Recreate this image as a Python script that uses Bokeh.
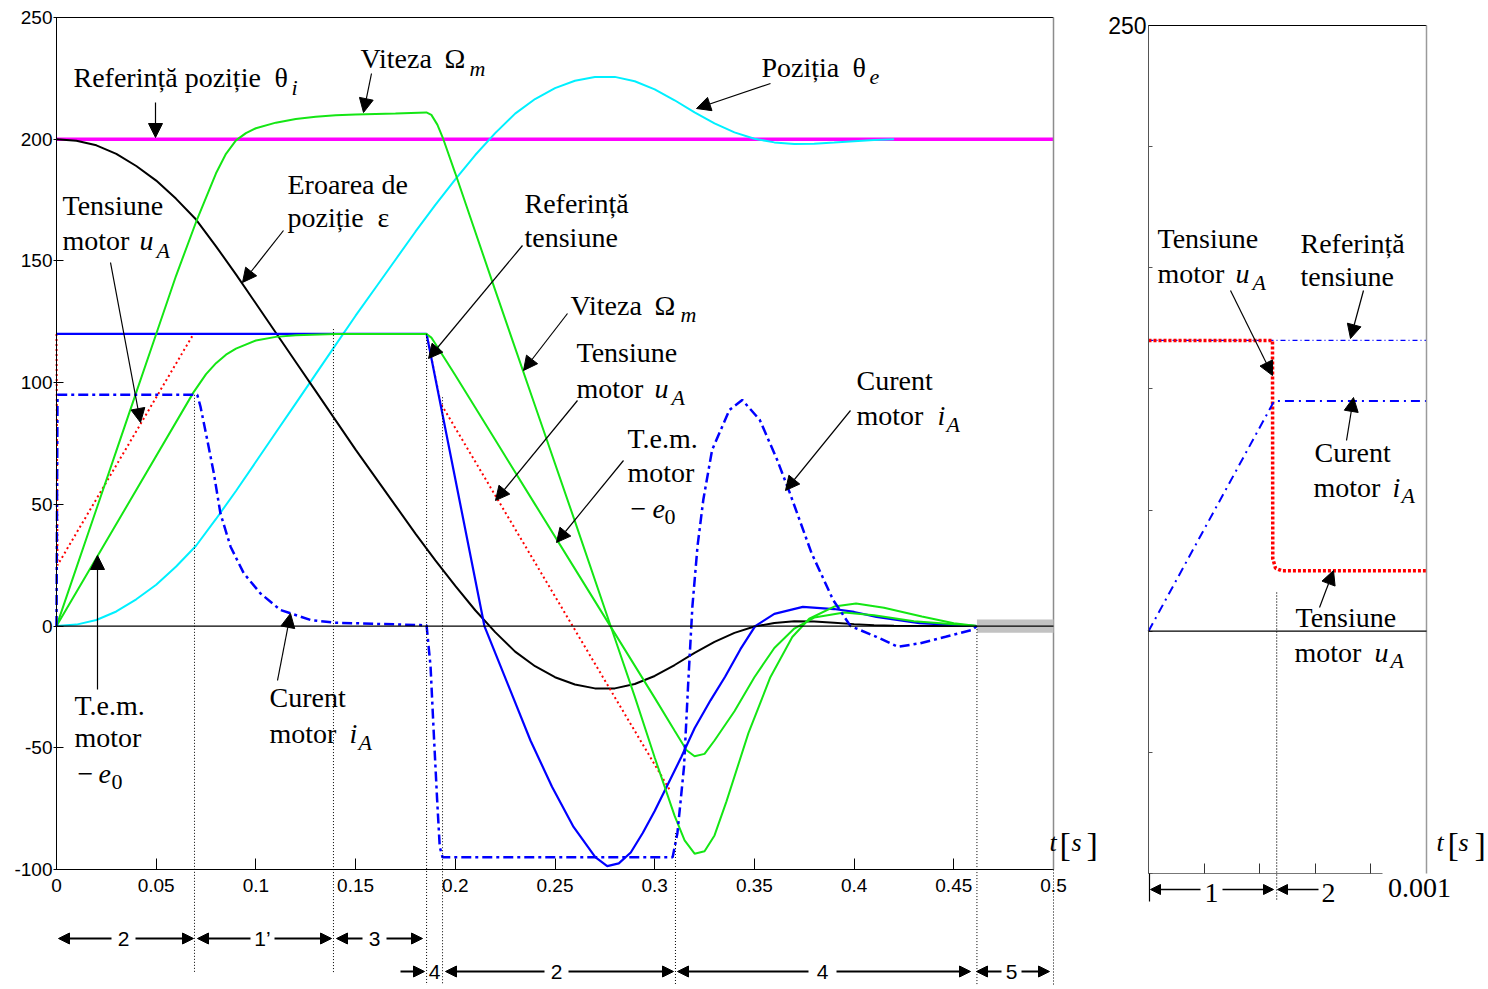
from bokeh.plotting import figure
from bokeh.models import Arrow, NormalHead, Label, BoxAnnotation, FixedTicker, Range1d
from bokeh.layouts import row
from bokeh.embed import file_html
from bokeh.resources import INLINE

SERIF = "Liberation Serif"
SANS = "Liberation Sans"

# ---------------- main chart data ----------------
t_ref_pos = [0.0, 0.5]
ref_pos = [200, 200]

t_theta = [0, 0.01, 0.02, 0.03, 0.04, 0.05, 0.06, 0.07, 0.08, 0.09, 0.10, 0.11, 0.12, 0.13,
           0.14, 0.15, 0.16, 0.17, 0.18, 0.19, 0.20, 0.21, 0.22, 0.23, 0.24, 0.25, 0.26, 0.27,
           0.28, 0.29, 0.30, 0.31, 0.32, 0.33, 0.34, 0.35, 0.36, 0.37, 0.38, 0.39, 0.40, 0.41, 0.42]
theta = [0, 0.6, 2.5, 6, 11, 17, 24.5, 33, 44, 55.5, 67.5, 79.5, 91.5, 103.5,
         115.5, 127.5, 139, 150.5, 162, 173, 183.5, 193.5, 202.5, 210.5, 216.5, 221, 224, 225.6,
         225.6, 223.8, 220.5, 216, 211, 206.5, 202.8, 200.2, 198.7, 198.0, 198.1, 198.6, 199.2, 199.7, 200]

t_eps = [0, 0.01, 0.02, 0.03, 0.04, 0.05, 0.06, 0.07, 0.08, 0.09, 0.10, 0.11, 0.12, 0.13,
         0.14, 0.15, 0.16, 0.17, 0.18, 0.19, 0.20, 0.21, 0.22, 0.23, 0.24, 0.25, 0.26, 0.27,
         0.28, 0.29, 0.30, 0.31, 0.32, 0.33, 0.34, 0.35, 0.36, 0.37, 0.38, 0.39, 0.40, 0.41, 0.42,
         0.44, 0.46]
eps = [200, 199.4, 197.5, 194, 189, 183, 175.5, 167, 156, 144.5, 132.5, 120.5, 108.5, 96.5,
       84.5, 72.5, 61, 49.5, 38, 27, 16.5, 6.5, -2.5, -10.5, -16.5, -21, -24, -25.6,
       -25.6, -23.8, -20.5, -16, -11, -6.5, -2.8, -0.2, 1.3, 2.0, 1.9, 1.4, 0.8, 0.3, 0.1,
       0, 0]

t_speed = [0, 0.01, 0.02, 0.03, 0.04, 0.05, 0.06, 0.07, 0.075, 0.08, 0.085, 0.09, 0.095, 0.10,
           0.11, 0.12, 0.13, 0.14, 0.15, 0.17, 0.1855, 0.188, 0.191, 0.194, 0.20, 0.22, 0.24,
           0.26, 0.28, 0.29, 0.30, 0.31, 0.315, 0.32, 0.325, 0.33, 0.336, 0.347, 0.358, 0.369,
           0.3775, 0.39, 0.401, 0.415, 0.434, 0.45, 0.4616]
speed = [0, 24, 48, 72, 96, 120, 144, 166, 176, 186, 194, 199.5, 202.5, 204.5,
         206.8, 208.3, 209.2, 209.8, 210.2, 210.6, 211, 210, 206, 200, 186, 138, 90.5,
         43, -5, -29, -54, -78, -88, -93.5, -92.5, -86, -72, -44, -21, -4.5,
         3, 8, 9.3, 7.5, 3.9, 1.2, 0]

t_emf = [0, 0.0687, 0.075, 0.08, 0.085, 0.09, 0.10, 0.11, 0.12, 0.14, 0.1856, 0.188, 0.19,
         0.20, 0.22, 0.24, 0.26, 0.28, 0.30, 0.31, 0.316, 0.32, 0.325, 0.33, 0.34, 0.35, 0.36,
         0.37, 0.38, 0.395, 0.41, 0.43, 0.4616]
emf = [0, 96, 103.5, 108, 111.5, 114, 117.3, 118.8, 119.5, 120, 120, 118.5, 116,
       103, 76.5, 50, 23.5, -3, -29.5, -43, -51, -53.5, -52.5, -47, -35, -21, -9,
       -1, 3.5, 5.6, 4.4, 2, 0]

t_uref = [0, 0.1856, 0.2146, 0.2377, 0.2485, 0.2593, 0.2702, 0.2762, 0.282, 0.288, 0.294, 0.30,
          0.306, 0.3134, 0.32, 0.328, 0.3353, 0.343, 0.3504, 0.36, 0.3743, 0.39, 0.40, 0.4112,
          0.4328, 0.4616]
uref = [120, 120, 0, -47, -66, -82.5, -94.9, -98.6, -97.5, -93, -85, -76,
        -66, -53.7, -42, -30.5, -20.8, -9.5, 0, 5, 7.9, 7, 5.8, 3.8,
        1.2, 0]

t_ua = [0, 0.0005, 0.0687, 0.1856, 0.1926, 0.3081]
ua = [120, 25, 120, 120, 91.6, -68.1]

t_ia = [0, 0.0005, 0.0706, 0.0722, 0.0756, 0.0789, 0.0822, 0.0873, 0.0939, 0.1023, 0.1123,
        0.1274, 0.1391, 0.1825, 0.1856, 0.1876, 0.1892, 0.1909, 0.1922, 0.1936, 0.3090, 0.3114,
        0.3147, 0.3168, 0.3189, 0.3215, 0.3244, 0.3288, 0.3375, 0.3439, 0.3527, 0.3614, 0.3678,
        0.3787, 0.3895, 0.3982, 0.4112, 0.422, 0.4329, 0.4459, 0.459, 0.4616]
ia = [0, 95, 95, 90.2, 76.5, 62.8, 46.3, 32.6, 21.7, 13.4, 6.6,
      2.5, 1.4, 0.4, 0.3, -16.7, -44, -71.5, -90.7, -95, -95, -85,
      -57.8, -23.5, 8, 33, 52, 72.4, 88.8, 92.9, 84.7, 68.3, 54.6,
      29.9, 10.7, 0, -4.4, -8.5, -7.1, -4.4, -1.6, 0]

phase_t = [0.0692, 0.1389, 0.1856, 0.1936, 0.3104, 0.4616, 0.5]
phase_top = [95, 122, 120, 94, -85, 0, -100]

x_ticks = [0, 0.05, 0.1, 0.15, 0.2, 0.25, 0.3, 0.35, 0.4, 0.45, 0.5]
x_tick_labels = ["0", "0.05", "0.1", "0.15", "0.2", "0.25", "0.3", "0.35", "0.4", "0.45", "0.5"]
y_ticks = [-100, -50, 0, 50, 100, 150, 200, 250]
y_tick_labels = ["-100", "-50", "0", "50", "100", "150", "200", "250"]

# ---------------- inset data (first millisecond) ----------------
ti_ref = [0, 0.001]
in_ref = [120, 120]
ti_ua = [0, 0.000446, 0.000447, 0.000457, 0.000478, 0.001]
in_ua = [120, 120, 30, 26, 25, 25]
ti_ia = [0, 0.000452, 0.001]
in_ia = [0, 95, 95]
inset_x_ticks = [0.0002, 0.0004, 0.0006, 0.0008]
inset_phase_t = 0.000461

# ---------------- geometry helpers (page pixels -> data) ----------------
FIG_H = 985
MAIN_W, INS_W = 1098, 390


def mx(px):
    return (px - 56) / 1994.0


def my(py):
    return 250 - (py - 17) * 350 / 852.0


def ix(px):
    return (px - 1148) / 278.0 * 0.001


def iy(py):
    return 250 - (py - 25) * 350 / 848.0


def add_label(fig, fx, fy, xpx, base_px, text, size=28, font=SERIF, style="normal",
              align="left", centre=False):
    ypx = base_px if centre else base_px - 0.35 * size
    fig.add_layout(Label(x=fx(xpx), y=fy(ypx), text=text, text_font=font,
                         text_font_size=f"{size}px", text_font_style=style,
                         text_align=align, text_baseline="middle", text_color="black"))


def head(size):
    return NormalHead(size=size, fill_color="black", line_color="black", line_width=1)


def add_arrow(fig, x0, y0, x1, y1, size=14, width=1.2, start=False, end=True,
              dash="solid", color="black"):
    fig.add_layout(Arrow(x_start=x0, y_start=y0, x_end=x1, y_end=y1,
                         start=head(size) if start else None,
                         end=head(size) if end else None,
                         line_color=color, line_width=width, line_dash=dash))


def make_fig(width, xr, yr):
    f = figure(width=width, height=FIG_H, x_range=Range1d(*xr), y_range=Range1d(*yr),
               output_backend="svg", toolbar_location=None, title=None,
               min_border_left=0, min_border_right=0, min_border_top=0, min_border_bottom=0)
    f.grid.visible = False
    f.outline_line_color = None
    f.background_fill_color = "white"
    f.border_fill_color = "white"
    return f


# ================= main figure =================
p = make_fig(MAIN_W, (mx(0), mx(MAIN_W)), (my(FIG_H), my(0)))

p.xaxis.fixed_location = -100
p.xaxis.bounds = (0, 0.5)
p.xaxis.ticker = FixedTicker(ticks=x_ticks)
p.xaxis.major_label_overrides = {t: s for t, s in zip(x_ticks, x_tick_labels)}
p.yaxis.fixed_location = 0
p.yaxis.bounds = (-100, 250)
p.yaxis.ticker = FixedTicker(ticks=y_ticks)
p.yaxis.major_label_overrides = {t: s for t, s in zip(y_ticks, y_tick_labels)}
for ax in (p.xaxis[0], p.yaxis[0]):
    ax.axis_line_color = "black"
    ax.axis_line_width = 1
    ax.major_tick_out = 0
    ax.major_tick_line_color = "black"
    ax.minor_tick_line_color = None
    ax.major_label_text_font = SANS
    ax.major_label_text_font_size = "19px"
    ax.major_label_text_color = "black"
p.xaxis.major_tick_in = 11
p.yaxis.major_tick_in = 7
p.yaxis.major_tick_out = 3
p.xaxis.major_label_standoff = 9
p.yaxis.major_label_standoff = 1

# frame borders, end band and zero line
add_arrow(p, 0, 250, 0.5, 250, start=False, end=False, width=1, color="black")
add_arrow(p, 0.5, -100, 0.5, 250, start=False, end=False, width=1.5, color="#8c8c8c")
p.add_layout(BoxAnnotation(left=phase_t[5], right=0.5, bottom=-2.7, top=2.7,
                           fill_color="#c2c2c2", fill_alpha=1, line_color=None))
add_arrow(p, 0, 0, 0.5, 0, start=False, end=False, width=1.2, color="black")

# curves
p.line(t_ref_pos, ref_pos, line_color="#ff00ff", line_width=3.5)
p.line(t_theta, theta, line_color="#00f0ff", line_width=2)
p.line(t_eps, eps, line_color="black", line_width=2)
p.line(t_ua, ua, line_color="#ff0000", line_width=2, line_dash="2 3")
p.line(t_uref, uref, line_color="#0000ff", line_width=2.2)
p.line(t_speed, speed, line_color="#14e614", line_width=2)
p.line(t_emf, emf, line_color="#14e614", line_width=2)
p.line(t_ia, ia, line_color="#0000ff", line_width=2.5, line_dash="10 4 3 4")

# phase boundaries (dotted)
phase_bottom_px = [973, 972, 985, 985, 985, 985, 985]
for t, top, bpx in zip(phase_t, phase_top, phase_bottom_px):
    add_arrow(p, t, top, t, my(bpx), start=False, end=False, width=1, dash="1 2")

# text labels: (text, left px, baseline px, size, style)
MAIN_TEXT = [
    ("Referință poziție", 73, 87, 28, "normal"), ("θ", 274, 87, 28, "normal"),
    ("i", 291, 95, 22, "italic"),
    ("Viteza", 360, 68, 28, "normal"), ("Ω", 444, 68, 28, "normal"), ("m", 469, 76, 22, "italic"),
    ("Poziția", 761, 77, 28, "normal"), ("θ", 852, 77, 28, "normal"), ("e", 869, 84, 22, "italic"),
    ("Eroarea de", 287, 194, 28, "normal"), ("poziție", 287, 227, 28, "normal"),
    ("ε", 377, 227, 28, "normal"),
    ("Tensiune", 62, 215, 28, "normal"), ("motor", 62, 250, 28, "normal"),
    ("u", 139, 250, 28, "italic"), ("A", 156, 258, 22, "italic"),
    ("Referință", 524, 213, 28, "normal"), ("tensiune", 524, 247, 28, "normal"),
    ("Viteza", 570, 315, 28, "normal"), ("Ω", 654, 315, 28, "normal"), ("m", 680, 322, 22, "italic"),
    ("Tensiune", 576, 362, 28, "normal"), ("motor", 576, 398, 28, "normal"),
    ("u", 654, 398, 28, "italic"), ("A", 671, 405, 22, "italic"),
    ("T.e.m.", 627, 448, 28, "normal"), ("motor", 627, 482, 28, "normal"),
    ("−", 630, 518, 28, "normal"), ("e", 652, 518, 28, "italic"), ("0", 664, 524, 22, "normal"),
    ("Curent", 856, 390, 28, "normal"), ("motor", 856, 425, 28, "normal"),
    ("i", 937, 425, 28, "italic"), ("A", 946, 432, 22, "italic"),
    ("T.e.m.", 74, 715, 28, "normal"), ("motor", 74, 747, 28, "normal"),
    ("−", 77, 783, 28, "normal"), ("e", 98, 783, 28, "italic"), ("0", 111, 789, 22, "normal"),
    ("Curent", 269, 707, 28, "normal"), ("motor", 269, 743, 28, "normal"),
    ("i", 349, 743, 28, "italic"), ("A", 358, 750, 22, "italic"),
    ("t", 1049, 851, 26, "italic"), ("[", 1059, 856, 34, "normal"),
    ("s", 1071, 851, 26, "italic"), ("]", 1086, 856, 34, "normal"),
]
for text, xp, yp, size, style in MAIN_TEXT:
    add_label(p, mx, my, xp, yp, text, size=size, style=style)

# callout arrows
MAIN_ARROWS = [
    (155, 102, 155, 137), (371, 73, 363, 112), (770, 83, 696, 108), (283, 230, 242, 282),
    (110, 262, 140, 422), (522, 245, 428, 358), (567, 313, 523, 370), (577, 400, 495, 500),
    (623, 460, 556, 542), (850, 410, 785, 490), (97, 689, 97, 555), (277, 680, 290, 613),
]
for x0, y0, x1, y1 in MAIN_ARROWS:
    add_arrow(p, mx(x0), my(y0), mx(x1), my(y1), size=14, width=1.2)

# phase dimension arrows below the axis
DIMS = [  # (x0 px, x1 px, y px, label, centre px, half gap px)
    (58, 193, 938, "2", 123, 12), (197, 331, 938, "1’", 262, 12), (336, 422, 938, "3", 374, 12),
    (445, 673, 971, "2", 556, 12), (677, 970, 971, "4", 822, 14), (976, 1049, 971, "5", 1011, 10),
]
for x0, x1, ypx, text, cx, half in DIMS:
    add_arrow(p, mx(x0), my(ypx), mx(cx - half), my(ypx), size=11, width=2, start=True, end=False)
    add_arrow(p, mx(cx + half), my(ypx), mx(x1), my(ypx), size=11, width=2, start=False, end=True)
    add_label(p, mx, my, cx, ypx, text, size=21, font=SANS, align="center", centre=True)
add_arrow(p, mx(400), my(971), mx(424), my(971), size=11, width=2, start=False, end=True)
add_label(p, mx, my, 434, 971, "4", size=21, font=SANS, align="center", centre=True)

# ================= inset figure =================
q = make_fig(INS_W, (ix(MAIN_W), ix(MAIN_W + INS_W)), (iy(FIG_H), iy(0)))

q.xaxis.fixed_location = -100
q.xaxis.bounds = (0, 0.00084)
q.xaxis.ticker = FixedTicker(ticks=[], minor_ticks=inset_x_ticks)
q.xaxis.major_tick_line_color = None
q.xaxis.minor_tick_in = 10
q.xaxis.minor_tick_out = 0
q.xaxis.minor_tick_line_color = "#333333"
q.xaxis.axis_line_color = "#777777"
q.yaxis.fixed_location = 0
q.yaxis.bounds = (-100, 250)
q.yaxis.ticker = FixedTicker(ticks=[250], minor_ticks=y_ticks[:-1])
q.yaxis.major_label_overrides = {250: "250"}
q.yaxis.major_tick_in = 4
q.yaxis.major_tick_out = 0
q.yaxis.minor_tick_in = 4
q.yaxis.minor_tick_out = 0
q.yaxis.axis_line_color = "#555555"
q.yaxis.major_tick_line_color = "#555555"
q.yaxis.minor_tick_line_color = "#555555"
q.yaxis.major_label_text_font = SANS
q.yaxis.major_label_text_font_size = "23px"
q.yaxis.major_label_text_color = "black"
q.yaxis.major_label_standoff = 2

add_arrow(q, 0, 250, 0.001, 250, start=False, end=False, width=1, color="black")
add_arrow(q, 0.001, -100, 0.001, 250, start=False, end=False, width=1.5, color="#9a9a9a")
add_arrow(q, 0, 0, 0.001, 0, start=False, end=False, width=1.2, color="black")

q.line(ti_ref, in_ref, line_color="#0000ff", line_width=1.2, line_dash="5 3 1 3")
q.line(ti_ua, in_ua, line_color="#ff0000", line_width=3.5, line_dash="3 2")
q.line(ti_ia, in_ia, line_color="#0000ff", line_width=2, line_dash="9 5 2 5")

add_arrow(q, inset_phase_t, iy(592), inset_phase_t, iy(900), start=False, end=False,
          width=1.2, dash="1 2")
add_arrow(q, ix(1149), -100, ix(1149), iy(901), start=False, end=False, width=1.2)

INSET_TEXT = [
    ("Tensiune", 1157, 248, 28, "normal"), ("motor", 1157, 283, 28, "normal"),
    ("u", 1235, 283, 28, "italic"), ("A", 1252, 290, 22, "italic"),
    ("Referință", 1300, 253, 28, "normal"), ("tensiune", 1300, 286, 28, "normal"),
    ("Curent", 1314, 462, 28, "normal"), ("motor", 1313, 497, 28, "normal"),
    ("i", 1392, 497, 28, "italic"), ("A", 1401, 503, 22, "italic"),
    ("Tensiune", 1295, 627, 28, "normal"), ("motor", 1294, 662, 28, "normal"),
    ("u", 1374, 662, 28, "italic"), ("A", 1390, 668, 22, "italic"),
    ("t", 1436, 851, 26, "italic"), ("[", 1447, 856, 34, "normal"),
    ("s", 1458, 851, 26, "italic"), ("]", 1474, 856, 34, "normal"),
]
for text, xp, yp, size, style in INSET_TEXT:
    add_label(q, ix, iy, xp, yp, text, size=size, style=style)
add_label(q, ix, iy, 1419, 897, "0.001", size=28, align="center")
add_label(q, ix, iy, 1211, 892, "1", size=28, align="center", centre=True)
add_label(q, ix, iy, 1328, 892, "2", size=28, align="center", centre=True)

INSET_ARROWS = [(1230, 290, 1272, 375), (1363, 290, 1350, 338),
                (1346, 440, 1353, 397), (1319, 607, 1333, 570)]
for x0, y0, x1, y1 in INSET_ARROWS:
    add_arrow(q, ix(x0), iy(y0), ix(x1), iy(y1), size=14, width=1.2)

add_arrow(q, ix(1150), iy(889), ix(1200), iy(889), size=10, width=1.3, start=True, end=False)
add_arrow(q, ix(1222), iy(889), ix(1273), iy(889), size=10, width=1.3, start=False, end=True)
add_arrow(q, ix(1277), iy(889), ix(1318), iy(889), size=10, width=1.3, start=True, end=False)

layout = row(p, q)
open("out.html", "w").write(file_html(layout, INLINE))
